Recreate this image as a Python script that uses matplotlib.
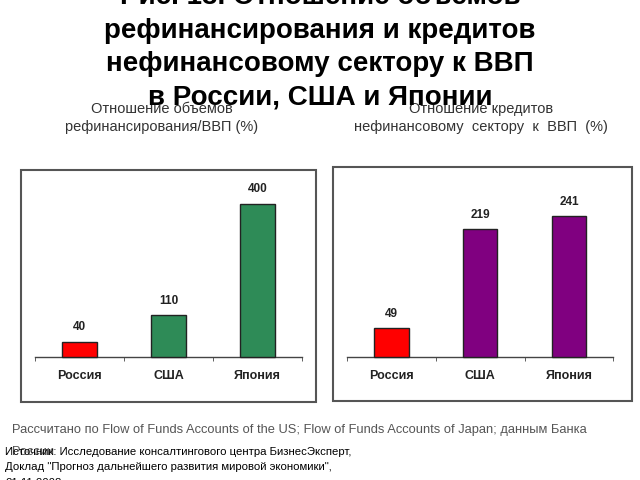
import matplotlib.pyplot as plt
from matplotlib.patches import Rectangle

plt.rcParams['font.family'] = ['Liberation Sans', 'DejaVu Sans']

# data
countries = ['Россия', 'США', 'Япония']
refin_gdp = [40, 110, 400]
credit_gdp = [49, 219, 241]

left_colors = ['#ff0000', '#2e8b57', '#2e8b57']
right_colors = ['#ff0000', '#800080', '#800080']

W, H = 640, 480
fig = plt.figure(figsize=(6.4, 4.8), dpi=100)


def px_axes(x0, y0, x1, y1):
    # pixel box (top-left origin) -> figure axes
    return fig.add_axes([x0 / W, 1 - y1 / H, (x1 - x0) / W, (y1 - y0) / H])


def panel(box, values, colors, ylim, xlim):
    ax = px_axes(*box)
    ax.set_xlim(*xlim)
    ax.set_ylim(*ylim)
    ax.bar(range(len(values)), values, width=0.39, color=colors,
           edgecolor='#222222', linewidth=1.0, zorder=3)
    for i, v in enumerate(values):
        ax.annotate(str(v), (i, v), xytext=(0, 6), textcoords='offset points',
                    ha='center', va='bottom', fontsize=8.5,
                    fontweight='bold', color='#222222')
    for s in ['left', 'right', 'top']:
        ax.spines[s].set_visible(False)
    ax.spines['bottom'].set_position(('data', 0))
    ax.spines['bottom'].set_bounds(-0.5, len(values) - 0.5)
    ax.spines['bottom'].set_color('#444444')
    ax.spines['bottom'].set_linewidth(1.0)
    ax.set_xticks(range(len(values)))
    ax.set_xticklabels(countries, fontsize=9, fontweight='bold',
                       color='#222222')
    ax.tick_params(axis='x', length=0, pad=9)
    ax.set_xticks([i - 0.5 for i in range(len(values) + 1)], minor=True)
    ax.tick_params(axis='x', which='minor', length=3, direction='out',
                   color='#444444')
    ax.set_yticks([])
    ax.patch.set_visible(False)
    # frame around the panel
    x0, y0, x1, y1 = box
    fig.patches.append(Rectangle((x0 / W, 1 - y1 / H), (x1 - x0) / W,
                                 (y1 - y0) / H, transform=fig.transFigure,
                                 fill=False, edgecolor='#555555',
                                 linewidth=1.5))
    return ax


panel((21, 170, 316, 402), refin_gdp, left_colors, (-117, 488), (-0.657, 2.657))
panel((333, 167, 632, 401), credit_gdp, right_colors, (-75, 325), (-0.657, 2.71))

# panel headings
fig.text(162 / W, 1 - 118 / H, 'Отношение объемов\nрефинансирования/ВВП (%)',
         ha='center', va='center', fontsize=10.5, color='#333333',
         linespacing=1.45)
fig.text(481 / W, 1 - 118 / H,
         'Отношение кредитов\nнефинансовому  сектору  к  ВВП  (%)',
         ha='center', va='center', fontsize=10.5, color='#333333',
         linespacing=1.45)

# slide title
title_lines = ['Рис. 13. Отношение объемов', 'рефинансирования и кредитов',
               'нефинансовому сектору к ВВП', 'в России, США и Японии']
for k, line in enumerate(title_lines):
    fig.text(0.5, 1 - (-3 + 33.5 * k) / H, line, ha='center', va='center',
             fontsize=20, fontweight='bold', color='black', zorder=10)

# notes
fig.text(12 / W, 1 - 430 / H,
         'Рассчитано по Flow of Funds Accounts of the US; Flow of Funds '
         'Accounts of Japan; данным Банка', ha='left', va='center',
         fontsize=9.3, color='#555555')
fig.text(12 / W, 1 - 452 / H, 'России', ha='left', va='center',
         fontsize=9.3, color='#555555')
fig.text(5 / W, 1 - 452 / H,
         'Источник: Исследование консалтингового центра БизнесЭксперт,',
         ha='left', va='center', fontsize=8.2, color='black', zorder=10)
fig.text(5 / W, 1 - 467 / H,
         'Доклад "Прогноз дальнейшего развития мировой экономики",',
         ha='left', va='center', fontsize=8.2, color='black', zorder=10)
fig.text(5 / W, 1 - 483 / H, '21.11.2008', ha='left', va='center',
         fontsize=8.2, color='black', zorder=10)

fig.savefig('out.png', dpi=100)
